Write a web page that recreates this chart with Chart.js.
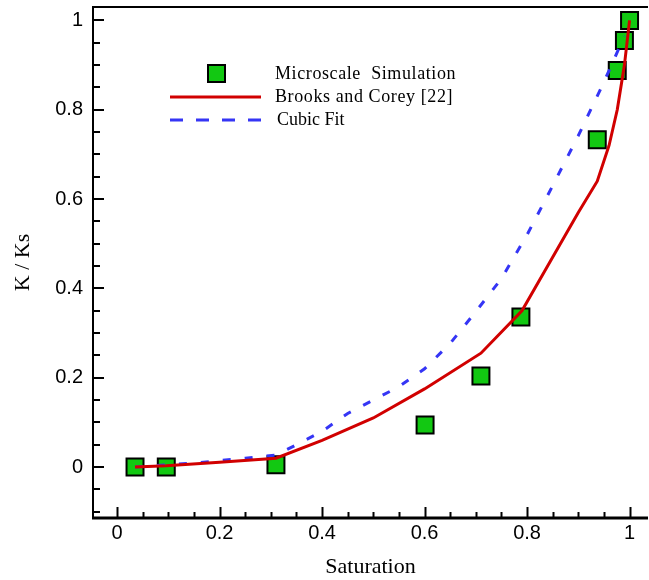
<!DOCTYPE html>
<html>
<head>
<meta charset="utf-8">
<script src="https://cdn.jsdelivr.net/npm/chart.js@4.4.1/dist/chart.umd.min.js"></script>
<style>
  html, body { margin: 0; padding: 0; background: #fff; }
  canvas { display: block; }
</style>
</head>
<body>
<canvas id="myChart" width="649" height="580"></canvas>
<script>
// Microscale Simulation (squares)
const simX = [0.035, 0.096, 0.31, 0.601, 0.71, 0.788, 0.937, 0.976, 0.99, 1.0];
const simY = [0, 0, 0.005, 0.094, 0.204, 0.336, 0.733, 0.888, 0.955, 1.0];

// Brooks and Corey [22] (red line)
const bcX = [0.035, 0.096, 0.2, 0.31, 0.4, 0.5, 0.6, 0.71, 0.79, 0.86, 0.9, 0.937, 0.96, 0.976, 0.99, 1.0];
const bcY = [0, 0.003, 0.011, 0.02, 0.06, 0.11, 0.175, 0.255, 0.35, 0.49, 0.57, 0.64, 0.72, 0.8, 0.9, 1.0];

// Cubic Fit (blue dashed)
const cubicX = [0.035, 0.15, 0.25, 0.31, 0.35, 0.4, 0.45, 0.5, 0.55, 0.6, 0.65, 0.7, 0.75, 0.8, 0.85, 0.9, 0.95, 0.99];
const cubicY = [0, 0.009, 0.02, 0.027, 0.05, 0.08, 0.12, 0.15, 0.18, 0.22, 0.277, 0.348, 0.422, 0.52, 0.63, 0.742, 0.862, 0.965];

const xTicks = [0, 0.2, 0.4, 0.6, 0.8, 1];
const yTicks = [0, 0.2, 0.4, 0.6, 0.8, 1];
const legendLabels = ["Microscale  Simulation", "Brooks and Corey [22]", "Cubic Fit"];

function toPoints(xs, ys) {
  return xs.map((x, i) => ({ x: x, y: ys[i] }));
}

// inward ticks, frame and legend
const framePlugin = {
  id: "frame",
  afterDatasetsDraw(chart) {
    const ctx = chart.ctx;
    const a = chart.chartArea;
    const xs = chart.scales.x;
    const ys = chart.scales.y;
    ctx.save();
    ctx.strokeStyle = "#000";
    ctx.lineWidth = 2;
    // x ticks (every 0.05)
    for (let i = -1; i <= 21; i++) {
      const v = i * 0.05;
      if (v < xs.min || v > xs.max) continue;
      const px = Math.round(xs.getPixelForValue(v)) + 0.5;
      const len = i % 4 === 0 ? 11 : 6;
      ctx.beginPath();
      ctx.moveTo(px, a.bottom);
      ctx.lineTo(px, a.bottom - len);
      ctx.stroke();
    }
    // y ticks (every 0.05)
    for (let i = -3; i <= 21; i++) {
      const v = i * 0.05;
      if (v < ys.min || v > ys.max) continue;
      const py = Math.round(ys.getPixelForValue(v));
      const len = i % 4 === 0 ? 11 : 7;
      ctx.beginPath();
      ctx.moveTo(a.left, py);
      ctx.lineTo(a.left + len, py);
      ctx.stroke();
    }
    // frame
    ctx.lineWidth = 2;
    ctx.beginPath();
    ctx.moveTo(a.right, a.top);
    ctx.lineTo(a.left, a.top);
    ctx.lineTo(a.left, a.bottom);
    ctx.stroke();
    ctx.lineWidth = 3;
    ctx.beginPath();
    ctx.moveTo(a.left - 1, a.bottom);
    ctx.lineTo(a.right, a.bottom);
    ctx.stroke();
    ctx.restore();
  },
  afterDraw(chart) {
    const ctx = chart.ctx;
    const ds = chart.data.datasets;
    ctx.save();
    // squares
    const sq = ds[2];
    ctx.fillStyle = sq.backgroundColor;
    ctx.strokeStyle = sq.borderColor;
    ctx.lineWidth = 2;
    ctx.fillRect(208, 65, 17, 17);
    ctx.strokeRect(208, 65, 17, 17);
    // red line
    ctx.strokeStyle = ds[0].borderColor;
    ctx.lineWidth = 3;
    ctx.beginPath();
    ctx.moveTo(170, 97);
    ctx.lineTo(261, 97);
    ctx.stroke();
    // blue dashes
    ctx.strokeStyle = ds[1].borderColor;
    ctx.setLineDash([13, 13]);
    ctx.beginPath();
    ctx.moveTo(170, 120);
    ctx.lineTo(261, 120);
    ctx.stroke();
    ctx.setLineDash([]);
    ctx.fillStyle = "#000";
    ctx.font = "18px 'Liberation Serif'";
    ctx.textBaseline = "middle";
    ctx.letterSpacing = "0.6px";
    ctx.fillText(legendLabels[0], 275, 74);
    ctx.fillText(legendLabels[1], 275, 97);
    ctx.letterSpacing = "0px";
    ctx.fillText(legendLabels[2], 277, 120);
    ctx.restore();
  }
};

const ctx = document.getElementById("myChart").getContext("2d");
new Chart(ctx, {
  type: "scatter",
  data: {
    datasets: [
      {
        label: legendLabels[1],
        data: toPoints(bcX, bcY),
        showLine: true,
        borderColor: "#d10000",
        borderWidth: 3,
        pointRadius: 0,
        tension: 0,
        order: 0
      },
      {
        label: legendLabels[2],
        data: toPoints(cubicX, cubicY),
        showLine: true,
        borderColor: "#3535f5",
        borderWidth: 3,
        borderDash: [8, 14],
        pointRadius: 0,
        tension: 0,
        order: 1
      },
      {
        label: legendLabels[0],
        data: toPoints(simX, simY),
        pointStyle: "rect",
        pointRadius: 12,
        pointHoverRadius: 12,
        backgroundColor: "#12c812",
        borderColor: "#000",
        pointBorderWidth: 2,
        order: 2
      }
    ]
  },
  options: {
    responsive: false,
    animation: false,
    layout: { autoPadding: false, padding: { top: 7, right: 1, left: 0, bottom: 0 } },
    plugins: {
      legend: { display: false },
      tooltip: { enabled: false }
    },
    scales: {
      x: {
        type: "linear",
        min: -0.047,
        max: 1.036,
        grid: { display: false, drawTicks: false },
        border: { display: false },
        afterBuildTicks: (s) => { s.ticks = xTicks.map((v) => ({ value: v })); },
        afterFit: (s) => { s.height = 62; s.paddingLeft = 0; s.paddingRight = 0; },
        ticks: {
          color: "#000",
          padding: 3,
          maxRotation: 0,
          autoSkip: false,
          font: { family: "'Liberation Sans'", size: 20 },
          callback: (v) => String(v)
        },
        title: {
          display: true,
          text: "Saturation",
          color: "#000",
          padding: { top: 0, bottom: 0 },
          font: { family: "'Liberation Serif'", size: 22 }
        }
      },
      y: {
        type: "linear",
        min: -0.114,
        max: 1.03,
        grid: { display: false, drawTicks: false },
        border: { display: false },
        afterBuildTicks: (s) => { s.ticks = yTicks.map((v) => ({ value: v })); },
        afterFit: (s) => { s.width = 93; s.paddingTop = 0; s.paddingBottom = 0; },
        ticks: {
          color: "#000",
          padding: 10,
          autoSkip: false,
          font: { family: "'Liberation Sans'", size: 20 },
          callback: (v) => String(v)
        },
        title: {
          display: true,
          text: "K / Ks",
          color: "#000",
          padding: { top: 10, bottom: 0 },
          font: { family: "'Liberation Serif'", size: 22 }
        }
      }
    }
  },
  plugins: [framePlugin]
});
</script>
</body>
</html>
